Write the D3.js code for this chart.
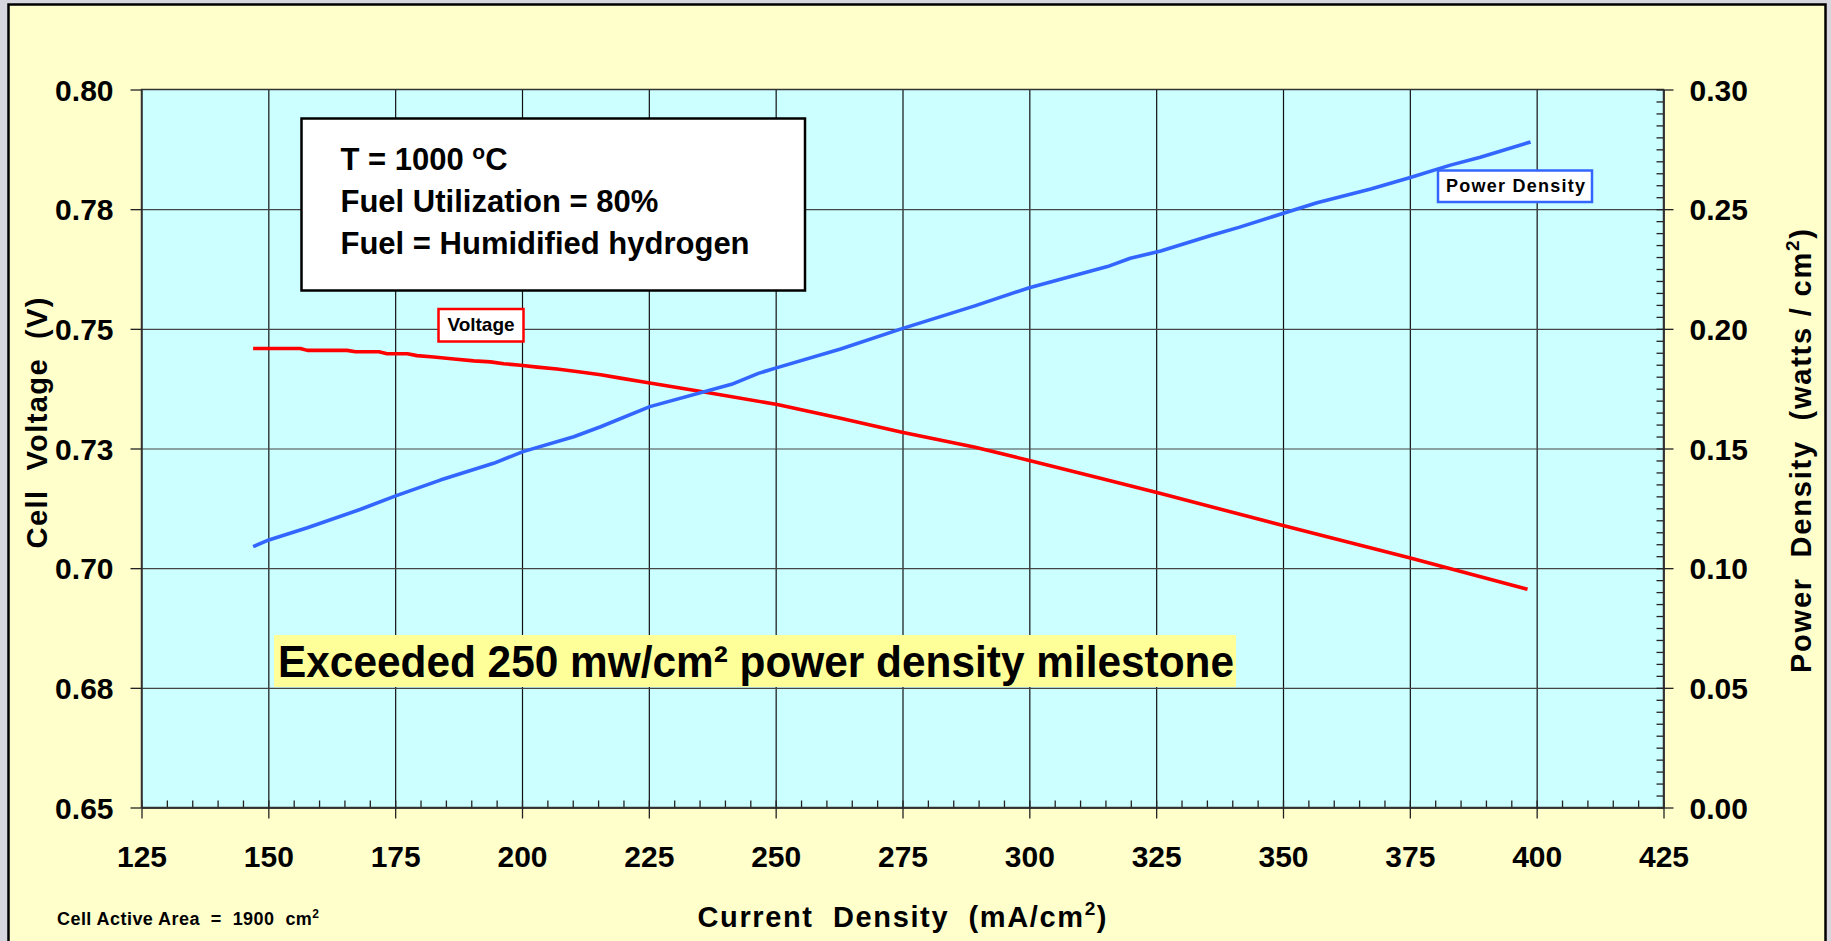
<!DOCTYPE html>
<html>
<head>
<meta charset="utf-8">
<script src="https://cdn.jsdelivr.net/npm/d3@7"></script>
<style>
  html, body { margin: 0; padding: 0; background: #d6d6de; }
  svg { display: block; }
  text { font-family: "Liberation Sans", Arial, sans-serif; font-weight: bold; fill: #000; white-space: pre; }
</style>
</head>
<body>
<div id="chart"></div>
<script>
// data: current density (mA/cm2) vs cell voltage / power density
var voltX = [147.0, 156.3, 157.7, 165.5, 167.2, 171.8, 173.4, 177.4, 179.3, 182.6, 186.6, 190.5,
  193.8, 196.4, 199.7, 203.0, 206.9, 211.5, 215.5, 219.4, 223.4, 227.3, 236.5, 250.3, 262.8,
  274.9, 289.1, 300.0, 314.0, 325.9, 350.0, 375.1, 398.2];
var voltY = [0.7459, 0.7459, 0.7455, 0.7455, 0.7452, 0.7452, 0.7448, 0.7448, 0.7444, 0.7441,
  0.7437, 0.7433, 0.7431, 0.7427, 0.7424, 0.7420, 0.7416, 0.7410, 0.7404, 0.7397, 0.7390,
  0.7383, 0.7367, 0.7342, 0.7313, 0.7284, 0.7253, 0.7225, 0.7188, 0.7156, 0.7089, 0.7021, 0.6956];

var powerX = [147.0, 150.1, 157.7, 168.2, 175.1, 183.9, 194.4, 200.2, 210.2, 215.5, 225.2, 241.3,
  246.6, 250.3, 262.8, 274.9, 289.1, 300.0, 315.4, 319.9, 325.9, 336.1, 341.3, 350.1, 356.7,
  367.3, 375.1, 383.0, 388.9, 398.8];
var powerY = [0.1090, 0.1118, 0.1169, 0.1246, 0.1302, 0.1368, 0.1438, 0.1487, 0.1549, 0.1591,
  0.1675, 0.1768, 0.1814, 0.1838, 0.1916, 0.2001, 0.2095, 0.2172, 0.2260, 0.2295, 0.2325,
  0.2392, 0.2424, 0.2483, 0.2527, 0.2584, 0.2632, 0.2684, 0.2717, 0.2781];

// tick values and labels
var xTicks = [125, 150, 175, 200, 225, 250, 275, 300, 325, 350, 375, 400, 425];
var voltTicks = [0.65, 0.675, 0.70, 0.725, 0.75, 0.775, 0.80];
var voltLabels = ["0.65", "0.68", "0.70", "0.73", "0.75", "0.78", "0.80"];
var powerTicks = [0, 0.05, 0.10, 0.15, 0.20, 0.25, 0.30];

var infoLines = ["T = 1000 ", "Fuel Utilization = 80%", "Fuel = Humidified hydrogen"];

var svgWidth = 1831;
var svgHeight = 941;

// plot area in page pixels
var plot = { left: 141.5, right: 1663.5, top: 89.5, bottom: 807.5 };
var width = plot.right - plot.left;
var height = plot.bottom - plot.top;

var svg = d3.select("#chart")
  .append("svg")
  .attr("width", svgWidth)
  .attr("height", svgHeight);

// outer yellow frame
svg.append("rect")
  .attr("x", 8.5)
  .attr("y", 4.5)
  .attr("width", 1817)
  .attr("height", 960)
  .attr("fill", "#ffffcc")
  .attr("stroke", "#000")
  .attr("stroke-width", 2.5);

var chartGroup = svg.append("g")
  .attr("transform", `translate(${plot.left}, ${plot.top})`);

// scales
var xScale = d3.scaleLinear().domain([125, 425]).range([0, width]);
var yVolt = d3.scaleLinear().domain([0.65, 0.80]).range([height, 0]);
var yPower = d3.scaleLinear().domain([0, 0.30]).range([height, 0]);

// plot background
chartGroup.append("rect")
  .attr("width", width)
  .attr("height", height)
  .attr("fill", "#ccffff");

// gridlines
chartGroup.append("g")
  .attr("class", "grid")
  .attr("transform", `translate(0, ${height})`)
  .call(d3.axisBottom(xScale).tickValues(xTicks.slice(1, -1)).tickSize(-height).tickFormat(""))
  .call((g) => g.select(".domain").remove())
  .selectAll("line")
  .attr("stroke", "#111")
  .attr("stroke-width", 1.2);

chartGroup.append("g")
  .attr("class", "grid")
  .call(d3.axisLeft(yVolt).tickValues(voltTicks.slice(1, -1)).tickSize(-width).tickFormat(""))
  .call((g) => g.select(".domain").remove())
  .selectAll("line")
  .attr("stroke", "#444")
  .attr("stroke-width", 1.2);

// plot border
chartGroup.append("rect")
  .attr("width", width)
  .attr("height", height)
  .attr("fill", "none")
  .attr("stroke", "#333")
  .attr("stroke-width", 1.5);

// lines
var voltData = voltX.map((d, i) => ({ x: d, y: voltY[i] }));
var powerData = powerX.map((d, i) => ({ x: d, y: powerY[i] }));

var voltLine = d3.line().x((d) => xScale(d.x)).y((d) => yVolt(d.y));
var powerLine = d3.line().x((d) => xScale(d.x)).y((d) => yPower(d.y));

chartGroup.append("path")
  .datum(voltData)
  .attr("d", voltLine)
  .attr("fill", "none")
  .attr("stroke", "#ff0000")
  .attr("stroke-width", 3.6)
  .attr("stroke-linejoin", "round");

chartGroup.append("path")
  .datum(powerData)
  .attr("d", powerLine)
  .attr("fill", "none")
  .attr("stroke", "#3366ff")
  .attr("stroke-width", 3.6)
  .attr("stroke-linejoin", "round");

// axes
function styleAxis(g) {
  g.select(".domain").attr("stroke", "#333").attr("stroke-width", 1.5);
  g.selectAll(".tick line").attr("stroke", "#222").attr("stroke-width", 1.3);
  g.selectAll("text").style("font-size", "30px").attr("font-weight", "bold");
}

// minor ticks first (inward)
chartGroup.append("g")
  .attr("transform", `translate(0, ${height})`)
  .call(d3.axisBottom(xScale).tickValues(d3.range(125, 426, 5)).tickSizeInner(-7).tickSizeOuter(0).tickFormat(""))
  .call(styleAxis);

chartGroup.append("g")
  .attr("transform", `translate(${width}, 0)`)
  .call(d3.axisRight(yPower).tickValues(d3.range(0, 61).map((d) => d * 0.005)).tickSizeInner(-7).tickSizeOuter(0).tickFormat(""))
  .call(styleAxis);

// major axes
chartGroup.append("g")
  .attr("transform", `translate(0, ${height})`)
  .call(d3.axisBottom(xScale).tickValues(xTicks).tickSizeInner(11).tickSizeOuter(0).tickPadding(27).tickFormat(d3.format("d")))
  .call(styleAxis);

chartGroup.append("g")
  .call(d3.axisLeft(yVolt).tickValues(voltTicks).tickSizeInner(11).tickSizeOuter(0).tickPadding(17)
    .tickFormat((d, i) => voltLabels[i]))
  .call(styleAxis)
  .selectAll("text").attr("dy", "0.36em");

chartGroup.append("g")
  .attr("transform", `translate(${width}, 0)`)
  .call(d3.axisRight(yPower).tickValues(powerTicks).tickSizeInner(10).tickSizeOuter(0).tickPadding(16)
    .tickFormat(d3.format(".2f")))
  .call(styleAxis)
  .selectAll("text").attr("dy", "0.36em");

// info box
svg.append("rect")
  .attr("x", 301.5)
  .attr("y", 118.5)
  .attr("width", 503.5)
  .attr("height", 172)
  .attr("fill", "#fff")
  .attr("stroke", "#000")
  .attr("stroke-width", 2.5);

var info = svg.append("g").style("font-size", "31px");
info.selectAll("text")
  .data(infoLines)
  .enter()
  .append("text")
  .attr("x", 340.5)
  .attr("y", (d, i) => 170 + i * 42)
  .text((d) => d);
var tLine = info.select("text");
tLine.append("tspan").attr("dy", -11).style("font-size", "21px").text("o");
tLine.append("tspan").attr("dy", 11).text("C");

// series labels
svg.append("rect")
  .attr("x", 438.5).attr("y", 309)
  .attr("width", 85).attr("height", 32.5)
  .attr("fill", "#fff")
  .attr("stroke", "#ff0000")
  .attr("stroke-width", 2.5);
svg.append("text")
  .attr("x", 481).attr("y", 331)
  .attr("text-anchor", "middle")
  .style("font-size", "19px")
  .text("Voltage");

svg.append("rect")
  .attr("x", 1438).attr("y", 170.5)
  .attr("width", 154).attr("height", 31.5)
  .attr("fill", "#fff")
  .attr("stroke", "#3366ff")
  .attr("stroke-width", 2.5);
svg.append("text")
  .attr("x", 1446).attr("y", 191.5)
  .attr("textLength", 139)
  .attr("lengthAdjust", "spacing")
  .style("font-size", "18px")
  .text("Power Density");

// milestone banner
svg.append("rect")
  .attr("x", 274).attr("y", 635)
  .attr("width", 962).attr("height", 52)
  .attr("fill", "#ffff99");
svg.append("text")
  .attr("x", 278).attr("y", 677)
  .attr("textLength", 956)
  .attr("lengthAdjust", "spacingAndGlyphs")
  .style("font-size", "44px")
  .text("Exceeded 250 mw/cm\u00b2 power density milestone");

// axis titles
var yTitle = svg.append("text")
  .attr("transform", "translate(47, 423) rotate(-90)")
  .attr("text-anchor", "middle")
  .attr("textLength", 251)
  .style("font-size", "29px");
yTitle.text("Cell  Voltage  (V)");

var y2Title = svg.append("text")
  .attr("transform", "translate(1811, 451) rotate(-90)")
  .attr("text-anchor", "middle")
  .attr("textLength", 444)
  .style("font-size", "29px");
y2Title.append("tspan").text("Power  Density  (watts / cm");
y2Title.append("tspan").attr("dy", -12).style("font-size", "19px").text("2");
y2Title.append("tspan").attr("dy", 12).text(")");

var xTitle = svg.append("text")
  .attr("x", 902).attr("y", 927)
  .attr("text-anchor", "middle")
  .attr("textLength", 409)
  .style("font-size", "29px");
xTitle.append("tspan").text("Current  Density  (mA/cm");
xTitle.append("tspan").attr("dy", -12).style("font-size", "19px").text("2");
xTitle.append("tspan").attr("dy", 12).text(")");

// footnote
var note = svg.append("text")
  .attr("x", 57).attr("y", 925)
  .attr("textLength", 262)
  .style("font-size", "18px");
note.append("tspan").text("Cell Active Area  =  1900  cm");
note.append("tspan").attr("dy", -7).style("font-size", "12px").text("2");
</script>
</body>
</html>
